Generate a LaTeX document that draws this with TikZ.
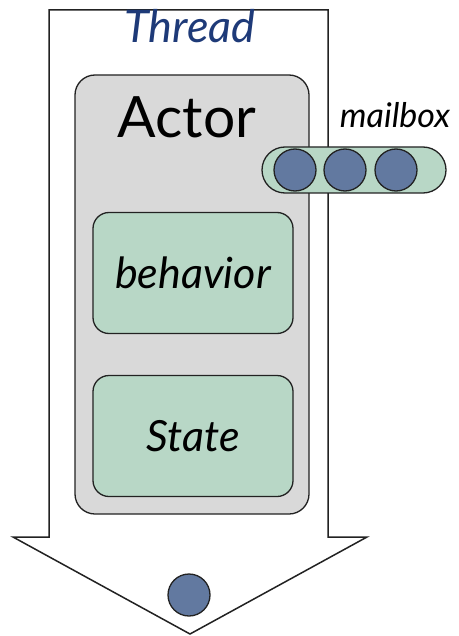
\documentclass[tikz,border=0pt]{standalone}
\usepackage{fontspec}
\setmainfont{Lato}
\usepackage{tikz}
\usepackage{xcolor}
\definecolor{actorgray}{HTML}{D9D9D9}
\definecolor{partgreen}{HTML}{B8D7C6}
\definecolor{msgblue}{HTML}{6279A0}
\definecolor{threadblue}{HTML}{1E3A78}
\definecolor{edge}{HTML}{222222}

\tikzset{
  partbox/.style={draw=edge,line width=1.3pt,fill=partgreen,rounded corners=16pt,
                  minimum width=200pt,minimum height=121pt,font=\fontsize{43}{46}\selectfont\itshape},
  msg/.style={circle,draw=edge,line width=1.3pt,fill=msgblue,minimum size=42pt,inner sep=0pt}
}

\begin{document}
\begin{tikzpicture}[x=1pt,y=-1pt]
  \useasboundingbox (0,0) rectangle (458,636);
  % thread arrow
  \draw[line width=1.5pt,edge,fill=white,line join=miter]
    (49,10) -- (328,10) -- (328,537) -- (367,537) -- (190,634)
    -- (13,537) -- (49,537) -- cycle;
  \node[font=\fontsize{45}{48}\selectfont\itshape,text=threadblue] (thread) at (190,26) {Thread};

  % actor with its parts
  \node[draw=edge,line width=1.3pt,fill=actorgray,rounded corners=20pt,
        minimum width=234pt,minimum height=439pt] (actor) at (192,294.5) {};
  \node[font=\fontsize{57}{60}\selectfont] (actorlbl) at (187,117) {Actor};
  \node[partbox] (behavior) at (193,273) {behavior};
  \node[partbox] (state) at (193,436) {State};

  % mailbox
  \node[font=\fontsize{34}{38}\selectfont\itshape] (mboxlbl) at (395,115) {mailbox};
  \node[draw=edge,line width=1.3pt,fill=partgreen,rounded corners=23pt,
        minimum width=184pt,minimum height=46pt] (mailbox) at (354,170) {};
  \foreach \i/\x in {1/295,2/345,3/396}
    \node[msg] (m\i) at (\x,170) {};

  % message being processed
  \node[msg] (current) at (189,595) {};
\end{tikzpicture}
\end{document}
